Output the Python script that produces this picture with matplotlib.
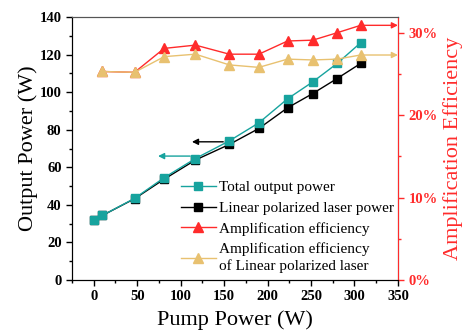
import matplotlib
matplotlib.use("Agg")
import matplotlib.pyplot as plt
from matplotlib.ticker import MultipleLocator, FuncFormatter

plt.rcParams['font.family'] = ['Liberation Serif', 'DejaVu Serif']
plt.rcParams['mathtext.fontset'] = 'stix'

# Data
pump_power = [0, 10, 47, 81, 117, 156, 190, 223, 252, 280, 307]
total_output = [31.9, 34.4, 43.5, 54.5, 64.7, 74.1, 83.7, 96.5, 105.5, 115.3, 126.3]
linear_output = [31.9, 34.4, 43.3, 53.7, 63.9, 72.2, 80.7, 91.7, 99.3, 107.3, 115.3]
eff_pump = [10, 47, 81, 117, 156, 190, 223, 252, 280, 307]
amp_eff = [25.3, 25.2, 28.1, 28.5, 27.4, 27.4, 29.0, 29.1, 30.0, 30.9]
amp_eff_linear = [25.3, 25.2, 27.1, 27.4, 26.1, 25.8, 26.8, 26.7, 26.8, 27.3]

teal = '#17A39E'
red = '#FF2B2B'
yellow = '#E8C170'

fig = plt.figure(figsize=(4.63, 3.35), dpi=100)
ax = fig.add_axes([0.1555, 0.164, 0.704, 0.785])
ax2 = ax.twinx()

ax.plot(pump_power, linear_output, color='black', marker='s', ms=6, lw=1.0,
        label='Linear polarized laser power', zorder=3)
ax.plot(pump_power, total_output, color=teal, marker='s', ms=6, lw=1.0,
        label='Total output power', zorder=4)

eff = [v / 100 for v in amp_eff]
effl = [v / 100 for v in amp_eff_linear]
ax2.plot(eff_pump, eff, color=red, marker='^', ms=7, lw=1.0, label='Amplification efficiency', zorder=3)
ax2.plot(eff_pump, effl, color=yellow, marker='^', ms=7, lw=1.0,
         label='Amplification efficiency\nof Linear polarized laser', zorder=4)

ax.set_xlim(-25, 350)
ax.set_ylim(0, 140)
ax2.set_ylim(0, 0.319)

# arrows indicating axes
ax2.annotate('', xy=(350, eff[-1]), xytext=(eff_pump[-1], eff[-1]),
             arrowprops=dict(arrowstyle='-|>', color=red, lw=1.0, mutation_scale=9, shrinkA=0, shrinkB=0))
ax2.annotate('', xy=(350, effl[-1]), xytext=(eff_pump[-1], effl[-1]),
             arrowprops=dict(arrowstyle='-|>', color=yellow, lw=1.0, mutation_scale=9, shrinkA=0, shrinkB=0))
ax.annotate('', xy=(113, 73.6), xytext=(149, 73.6),
            arrowprops=dict(arrowstyle='-|>', color='black', lw=1.0, mutation_scale=9, shrinkA=0, shrinkB=0))
ax.annotate('', xy=(74, 66), xytext=(111, 66),
            arrowprops=dict(arrowstyle='-|>', color=teal, lw=1.0, mutation_scale=9, shrinkA=0, shrinkB=0))

ax.xaxis.set_major_locator(MultipleLocator(50))
ax.xaxis.set_minor_locator(MultipleLocator(25))
ax.yaxis.set_major_locator(MultipleLocator(20))
ax.yaxis.set_minor_locator(MultipleLocator(10))
ax2.yaxis.set_major_locator(MultipleLocator(0.10))
ax2.yaxis.set_minor_locator(MultipleLocator(0.05))
ax2.yaxis.set_major_formatter(FuncFormatter(lambda v, p: f'{v*100:.0f}%'))

ax.tick_params(axis='both', which='major', direction='out', length=4, width=1, labelsize=10.5)
ax.tick_params(axis='both', which='minor', direction='out', length=2, width=1)
ax2.tick_params(axis='y', which='major', direction='out', length=4, width=1, colors=red, labelsize=10.5)
ax2.tick_params(axis='y', which='minor', direction='out', length=2, width=1, colors=red)
for lab in ax.get_xticklabels() + ax.get_yticklabels() + ax2.get_yticklabels():
    lab.set_fontweight('bold')

ax2.spines['right'].set_color(red)
ax.spines['top'].set_color('#555555')
ax2.spines['top'].set_color('#555555')

ax.set_xlabel('Pump Power (W)', fontsize=16, labelpad=5)
ax.set_ylabel('Output Power (W)', fontsize=16, labelpad=1)
ax2.set_ylabel('Amplification Efficiency', fontsize=16, color=red, labelpad=4)

h1, l1 = ax.get_legend_handles_labels()
h2, l2 = ax2.get_legend_handles_labels()
handles = [h1[1], h1[0], h2[0], h2[1]]
labels = [l1[1], l1[0], l2[0], l2[1]]
leg = ax.legend(handles, labels, loc='lower right', bbox_to_anchor=(1.02, -0.015), frameon=False,
                fontsize=11, labelspacing=0.45, handlelength=2.3, handletextpad=0.2, borderaxespad=0.3)
for t in leg.get_texts():
    t.set_linespacing(1.3)
leg.set_zorder(10)

fig.savefig('out.png', dpi=100)
